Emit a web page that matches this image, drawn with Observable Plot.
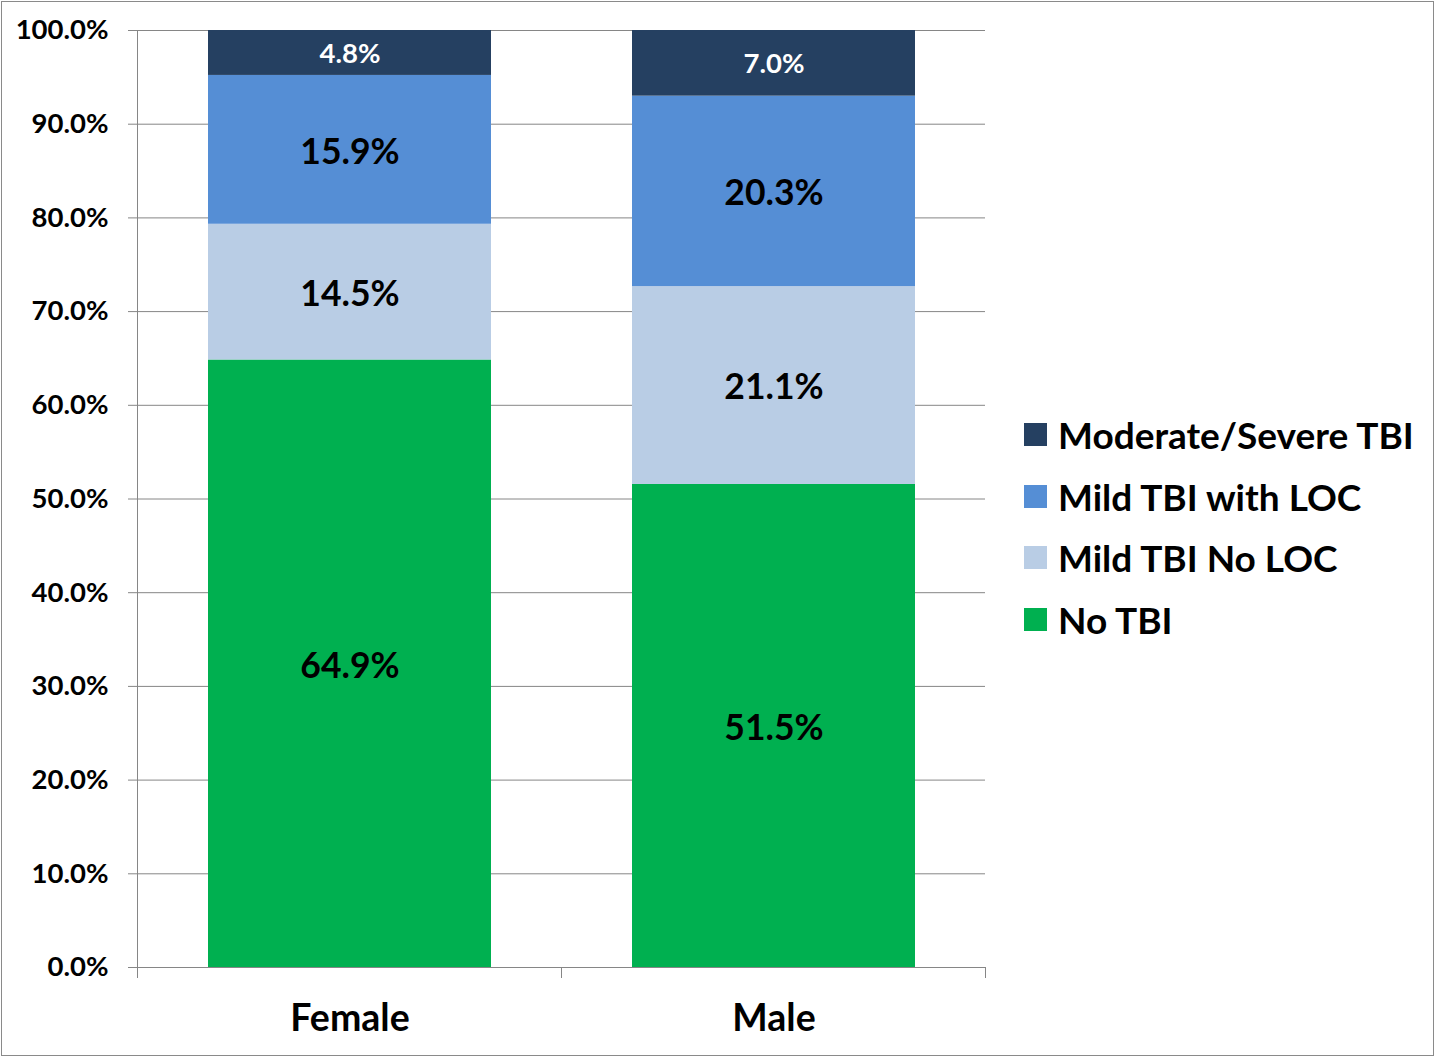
<!DOCTYPE html>
<html>
<head>
<meta charset="utf-8">
<script src="https://cdn.jsdelivr.net/npm/d3@7"></script>
<script src="https://cdn.jsdelivr.net/npm/@observablehq/plot@0.6"></script>
<style>
  html, body { margin: 0; padding: 0; background: #fff; }
  #wrap { position: relative; width: 1435px; height: 1057px; font-family: Lato, "Open Sans", sans-serif; }
  #border { position: absolute; left: 1px; top: 1px; width: 1431px; height: 1053px; border: 1px solid #8a8a8a; pointer-events: none; }
  #legend { position: absolute; left: 1024px; top: 404px; font-weight: 700; font-size: 37px; color: #000; }
  .row { display: flex; align-items: center; height: 61.5px; }
  .sw { width: 23px; height: 23px; margin-right: 11px; }
</style>
</head>
<body>
<div id="wrap"><div id="border"></div><div id="legend"></div></div>
<script>
const categories = ["Female", "Male"];
const series = ["No TBI", "Mild TBI No LOC", "Mild TBI with LOC", "Moderate/Severe TBI"];
const femaleValues = [64.9, 14.5, 15.9, 4.8];
const maleValues = [51.5, 21.1, 20.3, 7.0];
const seriesColors = ["#00B050", "#B9CDE5", "#558ED5", "#254061"];
const yTicks = [0, 0.1, 0.2, 0.3, 0.4, 0.5, 0.6, 0.7, 0.8, 0.9, 1.0];
const legendOrder = ["Moderate/Severe TBI", "Mild TBI with LOC", "Mild TBI No LOC", "No TBI"];

const valuesByCat = {Female: femaleValues, Male: maleValues};
const rows = [];
for (const c of categories) {
  series.forEach((s, i) => rows.push({cat: c, series: s, value: valuesByCat[c][i]}));
}
const fmt = v => v.toFixed(1) + "%";
const gridColor = "#868686";
const topSeries = "Moderate/Severe TBI";
const stackOpts = {x: "cat", y: "value", z: "series", offset: "normalize", order: series};

const plot = Plot.plot({
  width: 1435,
  height: 1057,
  marginLeft: 137,
  marginRight: 450,
  marginTop: 30,
  marginBottom: 90,
  style: {fontFamily: "Lato, 'Open Sans', sans-serif", fontWeight: 700, color: "#000", background: "transparent"},
  x: {domain: categories, paddingInner: 1/3, paddingOuter: 1/6, label: null},
  y: {domain: [0, 1], label: null},
  color: {domain: series, range: seriesColors},
  marks: [
    Plot.gridY(yTicks, {stroke: gridColor, strokeOpacity: 1, strokeWidth: 1}),
    Plot.rectY(rows, Plot.stackY({...stackOpts, fill: "series"})),
    Plot.text(rows, Plot.stackY({...stackOpts, text: d => d.series !== topSeries ? fmt(d.value) : null, fill: "#000", fontSize: 35.5, fontWeight: 700, dy: 2.5})),
    Plot.text(rows, Plot.stackY({...stackOpts, text: d => d.series === topSeries ? fmt(d.value) : null, fill: "#fff", fontSize: 27.5, fontWeight: 700, dy: 1})),
    Plot.axisY(yTicks, {tickFormat: d3.format(".1%"), tickSize: 9, tickPadding: 20, stroke: gridColor, fontSize: 27.5, fontWeight: 700, fill: "#000", label: null}),
    Plot.axisX({tickSize: 0, tickPadding: 37, fontSize: 37.5, fontWeight: 700, fill: "#000", label: null}),
    Plot.frame({anchor: "left", stroke: gridColor})
  ]
});

// category boundary tick marks on the x axis, derived from the x scale
const xs = plot.scale("x");
const ys = plot.scale("y");
const gap = (xs.step - xs.bandwidth) / 2;
const edges = categories.map(c => xs.apply(c) - gap);
edges.push(xs.apply(categories[categories.length - 1]) + xs.bandwidth + gap);
const y0 = ys.apply(0);
d3.select(plot).append("g")
  .selectAll("line").data(edges).join("line")
  .attr("x1", d => d).attr("x2", d => d)
  .attr("y1", y0).attr("y2", y0 + 11)
  .attr("stroke", gridColor);

const wrap = document.getElementById("wrap");
wrap.insertBefore(plot, wrap.firstChild);
plot.style.position = "absolute";
plot.style.left = "0px";
plot.style.top = "0px";

const legend = d3.select("#legend");
legendOrder.forEach(s => {
  const r = legend.append("div").attr("class", "row");
  r.append("div").attr("class", "sw").style("background", seriesColors[series.indexOf(s)]);
  r.append("span").text(s);
});
</script>
</body>
</html>
